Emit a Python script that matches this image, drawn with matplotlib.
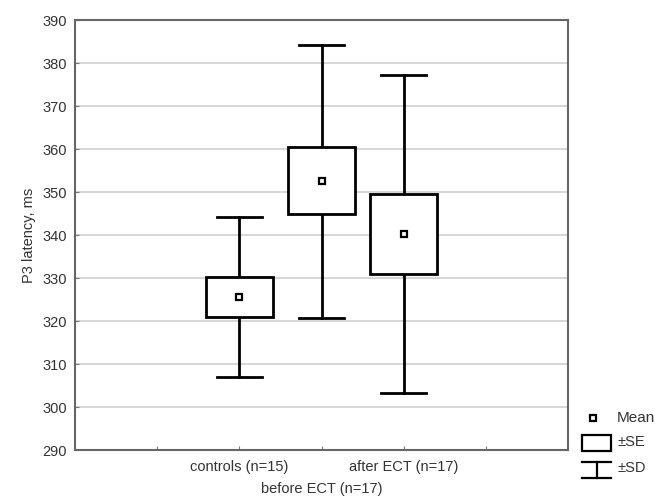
import numpy as np
import matplotlib
matplotlib.use("Agg")
import matplotlib.pyplot as plt
from matplotlib.patches import Rectangle

plt.rcParams['font.family'] = ['Liberation Sans', 'DejaVu Sans']

groups = ["controls (n=15)", "before ECT (n=17)", "after ECT (n=17)"]
means = [325.5, 352.6, 340.2]
se_lo = [320.9, 345.0, 330.9]
se_hi = [330.2, 360.4, 349.5]
sd_lo = [306.9, 320.8, 303.3]
sd_hi = [344.1, 384.3, 377.2]

txt = '#333333'
fs = 10.5
fig = plt.figure(figsize=(6.55, 4.98), dpi=100)
ax = fig.add_axes([75/655, 48/498, 493/655, 430/498])

pos = np.arange(1, len(groups) + 1)
bw = 0.82
cw = 0.55
for x, m, a, b, lo, hi in zip(pos, means, se_lo, se_hi, sd_lo, sd_hi):
    ax.plot([x, x], [b, hi], color='black', lw=2, zorder=3)
    ax.plot([x, x], [lo, a], color='black', lw=2, zorder=3)
    ax.plot([x - cw/2, x + cw/2], [hi, hi], color='black', lw=2, zorder=3)
    ax.plot([x - cw/2, x + cw/2], [lo, lo], color='black', lw=2, zorder=3)
    ax.add_patch(Rectangle((x - bw/2, a), bw, b - a, facecolor='white',
                           edgecolor='black', lw=2, zorder=3))
    ax.plot(x, m, marker='s', ms=5, mfc='white', mec='black', mew=1.6, zorder=4)

ax.set_xlim(-1, 5)
ax.set_ylim(290, 390)
ax.set_yticks(np.arange(290, 391, 10))
ax.set_xticks(np.arange(0, 5))
ax.set_xticklabels([])
ax.grid(axis='y', color='#cfcfcf', lw=1.2)
ax.set_axisbelow(True)
ax.tick_params(direction='in', length=3, color='#777777', labelsize=fs, labelcolor=txt, pad=6)
for s in ax.spines.values():
    s.set_color('#666666')
    s.set_linewidth(1.5)

for i, (x, g) in enumerate(zip(pos, groups)):
    dy = -23 if i == 1 else -7
    ax.annotate(g, (x, 290), xytext=(0, dy), textcoords='offset points',
                ha='center', va='top', fontsize=fs, color=txt)

ax.set_ylabel("P3 latency, ms", fontsize=fs, color=txt, labelpad=4)

# legend drawn by hand at the lower right
fig.patches.append(Rectangle((590/655, 1 - 421/498), 6/655, 6/498, transform=fig.transFigure,
                             facecolor='white', edgecolor='black', lw=1.6))
fig.text(617/655, 1 - 418/498, "Mean", fontsize=11, color=txt, va='center')
fig.patches.append(Rectangle((582/655, 1 - 451/498), 29/655, 16/498, transform=fig.transFigure,
                             facecolor='white', edgecolor='black', lw=1.6))
fig.text(617/655, 1 - 442/498, "±SE", fontsize=fs, color=txt, va='center')
fig.lines.append(plt.Line2D([582/655, 611/655], [1 - 462/498, 1 - 462/498], transform=fig.transFigure, color='black', lw=1.6))
fig.lines.append(plt.Line2D([582/655, 611/655], [1 - 478/498, 1 - 478/498], transform=fig.transFigure, color='black', lw=1.6))
fig.lines.append(plt.Line2D([596.5/655, 596.5/655], [1 - 462/498, 1 - 478/498], transform=fig.transFigure, color='black', lw=1.6))
fig.text(617/655, 1 - 468/498, "±SD", fontsize=fs, color=txt, va='center')

fig.savefig("out.png", dpi=100)
